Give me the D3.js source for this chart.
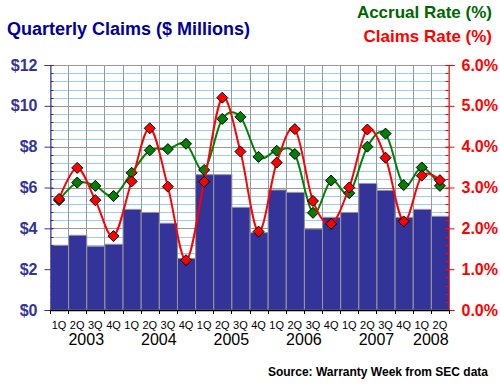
<!DOCTYPE html>
<html>
<head>
<meta charset="utf-8">
<script src="https://cdn.jsdelivr.net/npm/d3@7"></script>
<style>
  body { margin: 0; background: #fff; }
  text { font-family: "Liberation Sans", Arial, sans-serif; }
</style>
</head>
<body>
<div class="chart"></div>
<script>
// data, 1Q 2003 .. 2Q 2008
const quarters = ["1Q","2Q","3Q","4Q","1Q","2Q","3Q","4Q","1Q","2Q","3Q","4Q","1Q","2Q","3Q","4Q","1Q","2Q","3Q","4Q","1Q","2Q"]
const years = ["2003","2004","2005","2006","2007","2008"]
const claims = [3.17, 3.66, 3.12, 3.22, 4.93, 4.78, 4.25, 2.53, 6.63, 6.63, 5.03, 3.79, 5.88, 5.76, 3.97, 4.54, 4.78, 6.2, 5.86, 4.54, 4.93, 4.59]
const claimsRate = [2.72, 3.48, 2.69, 1.81, 3.15, 4.45, 3.02, 1.22, 3.14, 5.2, 3.88, 1.92, 3.61, 4.43, 2.67, 2.11, 3.0, 4.42, 3.73, 2.17, 3.29, 3.18]
const accrualRate = [2.69, 3.12, 3.04, 2.79, 3.36, 3.91, 3.94, 4.07, 3.43, 4.68, 4.73, 3.75, 3.90, 3.82, 2.38, 3.17, 2.86, 4.0, 4.32, 3.06, 3.49, 3.04]
const dollarTicks = [0, 2, 4, 6, 8, 10, 12]
const pctTicks = [0, 1, 2, 3, 4, 5, 6]

const W = 500, H = 385
const plotL = 50, plotR = 449, plotT = 65, plotB = 310

const svg = d3.select(".chart").append("svg")
    .attr("width", W)
    .attr("height", H)

const idx = d3.range(quarters.length)
const x = d3.scaleBand().domain(idx).range([plotL, plotR]).padding(0)
const yL = d3.scaleLinear().domain([0, 12]).range([plotB, plotT])
const yR = d3.scaleLinear().domain([0, 6]).range([plotB, plotT])

// minor grid (light blue) then major grid (gray)
const minor = d3.range(0, 12.01, 0.4).filter(v => Math.abs(v / 2 - Math.round(v / 2)) > 0.01)
svg.append("g").selectAll("line").data(minor).join("line")
    .attr("x1", plotL).attr("x2", plotR)
    .attr("y1", d => Math.round(yL(d)) + 0.5).attr("y2", d => Math.round(yL(d)) + 0.5)
    .attr("stroke", "#99ccff")
svg.append("g").selectAll("line").data(dollarTicks).join("line")
    .attr("x1", plotL).attr("x2", plotR)
    .attr("y1", d => Math.round(yL(d)) + 0.5).attr("y2", d => Math.round(yL(d)) + 0.5)
    .attr("stroke", "#999")
svg.append("g").selectAll("line").data(d3.range(quarters.length + 1)).join("line")
    .attr("x1", d => Math.round(plotL + d * x.bandwidth()) + 0.5)
    .attr("x2", d => Math.round(plotL + d * x.bandwidth()) + 0.5)
    .attr("y1", plotT).attr("y2", plotB)
    .attr("stroke", "#999")

// bars
svg.append("g").selectAll("rect").data(claims).join("rect")
    .attr("x", (d, i) => x(i) + 0.5)
    .attr("y", d => yL(d))
    .attr("width", x.bandwidth())
    .attr("height", d => plotB - yL(d))
    .attr("fill", "#333399")
    .attr("stroke", "#999")

// lines
const cx = i => x(i) + x.bandwidth() / 2
const line = d3.line()
    .x((d, i) => cx(i))
    .y(d => yR(d))
    .curve(d3.curveCatmullRom.alpha(0))

function series(data, color) {
    svg.append("path")
        .datum(data)
        .attr("d", line)
        .attr("fill", "none")
        .attr("stroke", color)
        .attr("stroke-width", 2)
    svg.append("g").selectAll("path").data(data).join("path")
        .attr("d", "M0,-5.5L5.5,0L0,5.5L-5.5,0Z")
        .attr("transform", (d, i) => "translate(" + cx(i) + "," + yR(d) + ")")
        .attr("fill", color)
        .attr("stroke", "#000")
        .attr("stroke-width", 1)
}
series(accrualRate, "#008000")
series(claimsRate, "#ff0000")

// left axis
const axL = svg.append("g").attr("transform", "translate(" + (plotL + 0.5) + ",0)")
    .call(d3.axisLeft(yL).tickValues(dollarTicks).tickFormat(d => "$" + d).tickSize(6).tickPadding(7))
axL.select(".domain").attr("stroke", "#333399")
axL.selectAll(".tick line").attr("stroke", "#333399").attr("x2", -6).attr("x1", 3)
axL.selectAll("text").attr("fill", "#333399").attr("font-size", 16).attr("font-weight", "bold")
    .attr("font-family", "Liberation Sans, Arial, sans-serif")
axL.append("g").selectAll("line").data(d3.range(0, 12.01, 0.4)).join("line")
    .attr("x1", 0).attr("x2", 3)
    .attr("y1", d => Math.round(yL(d)) + 0.5).attr("y2", d => Math.round(yL(d)) + 0.5)
    .attr("stroke", "#333399")

// right axis
const axR = svg.append("g").attr("transform", "translate(" + (plotR - 0.5) + ",0)")
    .call(d3.axisRight(yR).tickValues(pctTicks).tickFormat(d => d.toFixed(1) + "%").tickSize(6).tickPadding(7))
axR.select(".domain").attr("stroke", "#ff0000")
axR.selectAll(".tick line").attr("stroke", "#ff0000").attr("x1", -3)
axR.selectAll("text").attr("fill", "#ff0000").attr("font-size", 16).attr("font-weight", "bold")
    .attr("font-family", "Liberation Sans, Arial, sans-serif")
axR.append("g").selectAll("line").data(d3.range(0, 6.01, 0.2)).join("line")
    .attr("x1", -3).attr("x2", 0)
    .attr("y1", d => Math.round(yR(d)) + 0.5).attr("y2", d => Math.round(yR(d)) + 0.5)
    .attr("stroke", "#ff0000")

// bottom axis
svg.append("line")
    .attr("x1", plotL).attr("x2", plotR)
    .attr("y1", plotB + 0.5).attr("y2", plotB + 0.5)
    .attr("stroke", "#000").attr("stroke-width", 1.5)
svg.append("g").selectAll("line").data(d3.range(quarters.length + 1)).join("line")
    .attr("x1", d => Math.round(plotL + d * x.bandwidth()) + 0.5)
    .attr("x2", d => Math.round(plotL + d * x.bandwidth()) + 0.5)
    .attr("y1", plotB).attr("y2", plotB + 4)
    .attr("stroke", "#000")
svg.append("g").selectAll("text").data(quarters).join("text")
    .attr("x", (d, i) => cx(i))
    .attr("y", 329)
    .attr("text-anchor", "middle")
    .attr("font-size", 11)
    .text(d => d)
svg.append("g").selectAll("text").data(years).join("text")
    .attr("x", (d, i) => i < 5 ? plotL + (i * 4 + 2) * x.bandwidth() : plotL + (i * 4 + 1) * x.bandwidth())
    .attr("y", 345)
    .attr("text-anchor", "middle")
    .attr("font-size", 16)
    .text(d => d)

// titles
svg.append("text").attr("x", 7).attr("y", 35)
    .attr("font-size", 18).attr("font-weight", "bold").attr("fill", "#000099")
    .text("Quarterly Claims ($ Millions)")
svg.append("text").attr("x", 492).attr("y", 18).attr("text-anchor", "end")
    .attr("font-size", 17).attr("font-weight", "bold").attr("fill", "#006600")
    .text("Accrual Rate (%)")
svg.append("text").attr("x", 492).attr("y", 42).attr("text-anchor", "end")
    .attr("font-size", 17).attr("font-weight", "bold").attr("fill", "#ff0000")
    .text("Claims Rate (%)")
svg.append("text").attr("x", 488).attr("y", 376).attr("text-anchor", "end")
    .attr("font-size", 12).attr("font-weight", "bold").attr("fill", "#000")
    .text("Source: Warranty Week from SEC data")
</script>
</body>
</html>
